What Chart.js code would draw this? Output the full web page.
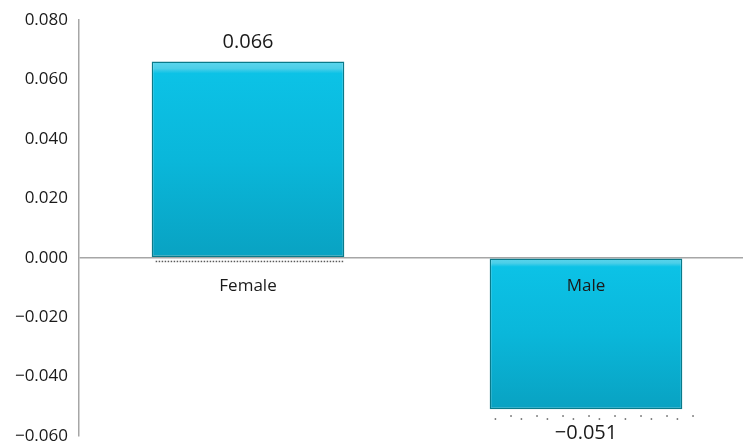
<!DOCTYPE html>
<html>
<head>
<meta charset="utf-8">
<script src="https://cdn.jsdelivr.net/npm/chart.js@4"></script>
<style>
  html, body { margin: 0; padding: 0; background: #fff; overflow: hidden; }
  #wrap { width: 743px; height: 443px; overflow: hidden; }
  #genderChart { display: block; }
</style>
</head>
<body>
<div id="wrap"><canvas id="genderChart" width="755" height="443"></canvas></div>
<script>
// data
const categories = ["Female", "Male"];
const values = [0.066, -0.051];
const yMin = -0.06;
const yMax = 0.08;
const yStep = 0.02;

const FONT = "'Open Sans', 'Noto Sans', sans-serif";

function fmt(v) {
  const s = Math.abs(v) < 1e-9 ? "0.000" : v.toFixed(3);
  return s.replace("-", "\u2212");
}

// vertical gradient per bar, light band on top then cyan fading to teal
function barFill(ctx) {
  const chart = ctx.chart;
  if (!chart.chartArea) return "#0cbde0";
  const y = chart.scales.y;
  const v = ctx.raw;
  const top = y.getPixelForValue(Math.max(v, 0));
  const bot = y.getPixelForValue(Math.min(v, 0));
  const g = chart.ctx.createLinearGradient(0, top, 0, bot);
  g.addColorStop(0, "#5cd6ee");
  g.addColorStop(0.035, "#4ccfe8");
  g.addColorStop(0.06, "#0cc2e6");
  g.addColorStop(0.5, "#0ab7da");
  g.addColorStop(1, "#09a2c2");
  return g;
}

// value labels, category labels next to the zero line, and the dotted shadows
const labelPlugin = {
  id: "labels",
  afterDatasetsDraw(chart) {
    const c = chart.ctx;
    const y = chart.scales.y;
    const zero = y.getPixelForValue(0);
    const meta = chart.getDatasetMeta(0);
    c.save();
    meta.data.forEach((bar, i) => {
      const v = values[i];
      const half = bar.width / 2;

      // dotted shadow line under each bar
      c.fillStyle = "rgba(60,60,60,0.85)";
      if (v >= 0) {
        for (let x = bar.x - half + 4; x < bar.x + half; x += 3) {
          c.fillRect(x, zero + 3, 1.5, 1.5);
        }
      } else {
        for (let x = bar.x - half + 5; x < bar.x + half; x += 26) {
          c.fillRect(x, bar.y + 9, 1.5, 1.5);
          c.fillRect(x + 26 * 0.6, bar.y + 6, 1.5, 1.5);
        }
      }

      c.fillStyle = "#1a1a1a";
      c.textAlign = "center";
      c.textBaseline = "middle";
      c.font = "20px " + FONT;
      if (v >= 0) {
        c.fillText(fmt(v), bar.x, bar.y - 19);
      } else {
        c.fillText(fmt(v), bar.x, bar.y + 24);
      }

      c.font = "17px " + FONT;
      c.fillText(categories[i], bar.x, zero + 28);
    });
    c.restore();
  },
};

const ctx = document.getElementById("genderChart").getContext("2d");
new Chart(ctx, {
  type: "bar",
  data: {
    labels: categories,
    datasets: [{
      data: values,
      backgroundColor: barFill,
      borderColor: "#0a7a8a",
      borderWidth: 1.5,
      borderSkipped: false,
      barPercentage: 0.57,
      categoryPercentage: 1,
    }],
  },
  options: {
    responsive: false,
    animation: false,
    layout: { padding: { top: 20, bottom: 7, left: 0, right: 0 } },
    plugins: {
      legend: { display: false },
      tooltip: { enabled: false },
    },
    scales: {
      x: {
        display: false,
        offset: true,
      },
      y: {
        min: yMin,
        max: yMax,
        afterFit: (scale) => {
          scale.width = 79;
          scale.paddingTop = 0;
          scale.paddingBottom = 0;
        },
        border: { display: true, color: "#a6a6a6", width: 1.5 },
        grid: {
          drawTicks: false,
          lineWidth: 1.5,
          color: (c) => (c.tick && Math.abs(c.tick.value) < 1e-9 ? "#a6a6a6" : "rgba(0,0,0,0)"),
        },
        ticks: {
          stepSize: yStep,
          padding: 11,
          color: "#1a1a1a",
          font: { family: FONT, size: 17 },
          callback: (v) => fmt(v),
        },
      },
    },
  },
  plugins: [labelPlugin],
});
</script>
</body>
</html>
